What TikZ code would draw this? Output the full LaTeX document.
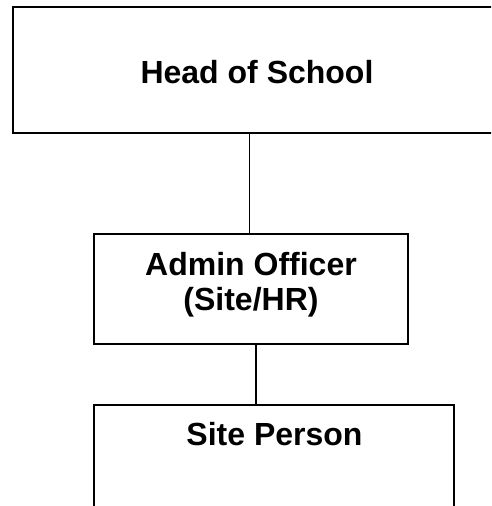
\documentclass[tikz,border=0pt]{standalone}
\usepackage{fontspec}
\setmainfont{Liberation Sans}
\begin{document}
\begin{tikzpicture}[x=1pt,y=-1pt,
  box/.style={draw=black,line width=1.4pt,inner sep=0pt,fill=none},
  lbl/.style={font=\fontsize{32}{35}\selectfont\bfseries,inner sep=0pt,anchor=base,align=center},
  conn/.style={draw=black,line width=1.4pt}]
\useasboundingbox (0,0) rectangle (491,506);
\clip (0,0) rectangle (491,506);
\node[box,minimum width=488pt,minimum height=126pt] (head) at (257,70) {};
\node[box,minimum width=314pt,minimum height=110pt] (admin) at (251,289) {};
\node[box,minimum width=360pt,minimum height=140pt] (site) at (274,475) {};
\node[lbl] (headt) at (257,83) {Head of School};
\node[lbl] (admint) at (251,275) {Admin Officer};
\node[lbl] (admint2) at (251,310) {(Site/HR)};
\node[lbl] (sitet) at (274.5,445) {Site Person};
\draw[conn] (head.south -| 249.5,0) -- (admin.north -| 249.5,0);
\draw[conn] (admin.south -| 256,0) -- (site.north -| 256,0);
\end{tikzpicture}
\end{document}
